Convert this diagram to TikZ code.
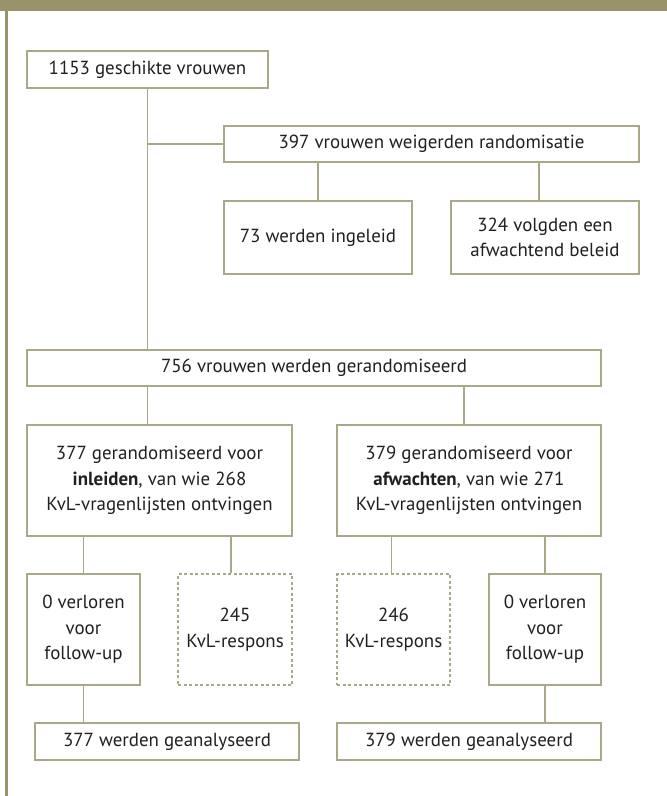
\documentclass[tikz,border=0pt]{standalone}
\usepackage{fontspec}
\setmainfont{PT Sans}
\usetikzlibrary{positioning}

\definecolor{olijf}{HTML}{9A9369}
\definecolor{kader}{HTML}{ABA887}
\definecolor{tekst}{HTML}{231F20}

\tikzset{
  box/.style={draw=kader,line width=1.1bp,fill=white,text=tekst,align=center,
    inner sep=0pt,font=\fontsize{19}{25.5}\selectfont},
  dashbox/.style={box,dash pattern=on 3bp off 2.5bp},
  link/.style={draw=kader,line width=1.1bp}
}

\begin{document}
\begin{tikzpicture}[x=1bp,y=-1bp]
\useasboundingbox (0,0) rectangle (667,796);
% frame
\fill[olijf] (0,0) rectangle (667,11);
\fill[olijf] (5,11) rectangle (7.5,796);

\node[box,minimum width=241bp,minimum height=37bp] (n1153) at (147.5,69.5) {1153 geschikte vrouwen};
\node[box,minimum width=415bp,minimum height=36bp] (n397) at (431.5,144) {397 vrouwen weigerden randomisatie};
\node[box,minimum width=188bp,minimum height=73bp] (n73) at (318,237.5) {73 werden ingeleid};
\node[box,minimum width=188bp,minimum height=73bp] (n324) at (545,237.5) {324 volgden een\\afwachtend beleid};
\node[box,minimum width=574bp,minimum height=36bp] (n756) at (314,368) {756 vrouwen werden gerandomiseerd};

\node[box,minimum width=265bp,minimum height=111bp] (n377) at (159.5,480.5) {377 gerandomiseerd voor\\\textbf{inleiden}, van wie 268\\KvL-vragenlijsten ontvingen};
\node[box,minimum width=264bp,minimum height=111bp] (n379) at (469,480.5) {379 gerandomiseerd voor\\\textbf{afwachten}, van wie 271\\KvL-vragenlijsten ontvingen};

\node[box,minimum width=113bp,minimum height=111bp] (lostL) at (83.5,629.5) {0 verloren\\voor\\follow-up};
\node[dashbox,minimum width=114bp,minimum height=111bp] (kvlL) at (235,629.5) {245\\KvL-respons};
\node[dashbox,minimum width=113bp,minimum height=111bp] (kvlR) at (393.5,629.5) {246\\KvL-respons};
\node[box,minimum width=112bp,minimum height=111bp] (lostR) at (545,629.5) {0 verloren\\voor\\follow-up};

\node[box,minimum width=264bp,minimum height=37bp] (anaL) at (167,741.5) {377 werden geanalyseerd};
\node[box,minimum width=264bp,minimum height=37bp] (anaR) at (469,741.5) {379 werden geanalyseerd};

% connectors
\draw[link] (n1153.south) -- (n1153.south |- n756.north);
\draw[link] (n1153.south |- n397.west) -- (n397.west);
\draw[link] (n73.north |- n397.south) -- (n73.north);
\draw[link] ([xshift=-6bp]n324.north |- n397.south) -- ([xshift=-6bp]n324.north);
\draw[link] (n1153.south |- n756.south) -- (n1153.south |- n377.north);
\draw[link] ([xshift=-5bp]n379.north |- n756.south) -- ([xshift=-5bp]n379.north);
\draw[link] (lostL.north |- n377.south) -- (lostL.north);
\draw[link] ([xshift=-4bp]kvlL.north |- n377.south) -- ([xshift=-4bp]kvlL.north);
\draw[link] ([xshift=-2bp]kvlR.north |- n379.south) -- ([xshift=-2bp]kvlR.north);
\draw[link] (lostR.north |- n379.south) -- (lostR.north);
\draw[link] (lostL.south) -- (lostL.south |- anaL.north);
\draw[link] (lostR.south) -- (lostR.south |- anaR.north);
\end{tikzpicture}
\end{document}
